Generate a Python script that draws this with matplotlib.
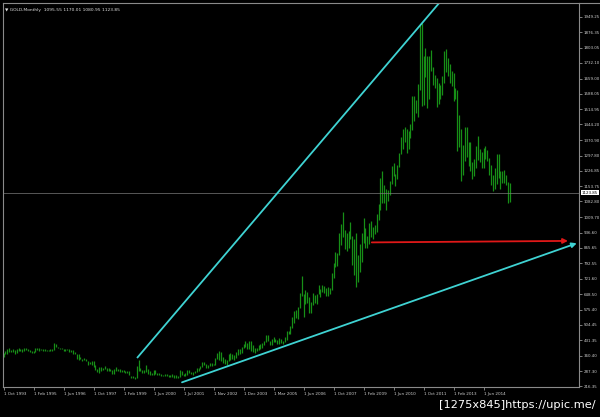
import matplotlib
matplotlib.use("Agg")
import matplotlib.pyplot as plt
from matplotlib.lines import Line2D

# monthly bars (MT4 history, a few duplicated months in 2000-2005)
highs = [
    373, 380, 393,                                                   # 1993
    396, 388, 393, 385, 390, 395, 391, 389, 398, 396, 393, 385,      # 1994
    382, 381, 394, 396, 394, 392, 389, 389, 387, 388, 391, 389,      # 1995
    418, 416, 401, 398, 394, 391, 389, 392, 390, 385, 385, 375,      # 1996
    368, 367, 356, 346, 348, 346, 336, 331, 334, 336, 315, 297,      # 1997
    306, 305, 304, 313, 302, 300, 296, 291, 299, 305, 299, 297,      # 1998
    292, 291, 290, 288, 290, 265, 265, 260, 310, 339, 304, 294,      # 1999
    293, 316, 298, 286, 279, 295, 291, 281, 278, 276, 270, 275,      # 2000
    272, 270, 268, 272, 270, 269, 266, 294, 290, 272, 281, 295, 293, 285, 282,  # 2001
    288, 302, 304, 311, 328, 329, 323, 315, 325, 325, 322, 349,      # 2002
    371, 382, 375, 352, 345, 340, 370, 372, 368, 363, 377, 390, 390, 400, 417,  # 2003
    428, 419, 430, 427, 410, 397, 397, 408, 417, 419, 430, 456, 456,  # 2004
    429, 437, 446, 437, 432, 441, 438, 430, 448, 475, 477, 498, 541,  # 2005
    571, 574, 588, 654, 732, 650, 670, 660, 637, 610, 652, 644,      # 2006
    651, 690, 673, 692, 687, 675, 683, 676, 746, 796, 848, 839,      # 2007
    936, 978, 1032, 950, 936, 943, 988, 920, 906, 934, 830, 882,     # 2008
    937, 1006, 957, 922, 980, 991, 965, 972, 1024, 1070, 1195, 1226,  # 2009
    1162, 1140, 1135, 1180, 1249, 1265, 1213, 1252, 1311, 1387, 1424, 1431,  # 2010
    1424, 1413, 1447, 1576, 1577, 1560, 1632, 1912, 1921, 1764, 1803, 1764,  # 2011
    1763, 1791, 1715, 1676, 1663, 1640, 1630, 1672, 1790, 1796, 1755, 1725,  # 2012
    1695, 1684, 1617, 1605, 1487, 1424, 1348, 1433, 1434, 1361, 1361, 1268,  # 2013
    1280, 1345, 1392, 1331, 1315, 1332, 1345, 1322, 1287, 1255, 1206, 1238,  # 2014
    1307, 1304, 1224, 1224, 1232, 1205, 1175, 1170,                  # 2015
]
lows = [
    355, 368, 370,
    376, 375, 375, 369, 372, 380, 380, 376, 384, 385, 380, 375,
    371, 371, 375, 388, 382, 385, 383, 380, 381, 382, 383, 384,
    388, 399, 394, 389, 389, 381, 381, 385, 379, 378, 370, 367,
    345, 338, 346, 337, 339, 336, 318, 319, 317, 308, 295, 283,
    278, 290, 291, 297, 290, 290, 287, 272, 273, 288, 290, 285,
    283, 283, 278, 279, 268, 257, 253, 252, 253, 290, 287, 278,
    280, 282, 276, 271, 270, 271, 276, 269, 270, 263, 263, 266,
    264, 262, 259, 259, 256, 255, 255, 262, 268, 263, 264, 270, 277, 272, 271,
    277, 283, 288, 299, 306, 316, 301, 302, 310, 311, 315, 315,
    344, 342, 335, 325, 322, 318, 333, 342, 345, 342, 350, 365, 367, 371, 394,
    399, 391, 391, 381, 378, 371, 382, 387, 389, 398, 409, 424, 430,
    411, 411, 423, 422, 414, 414, 418, 415, 426, 435, 460, 462, 489,
    515, 536, 534, 582, 639, 543, 603, 606, 562, 560, 598, 609,
    602, 647, 636, 657, 654, 641, 642, 648, 668, 725, 774, 781,
    834, 880, 917, 861, 853, 866, 907, 786, 740, 681, 705, 753,
    801, 886, 866, 865, 883, 916, 908, 930, 938, 998, 1042, 1075,
    1075, 1045, 1087, 1111, 1164, 1202, 1155, 1186, 1243, 1307, 1330, 1360,
    1309, 1328, 1382, 1419, 1462, 1496, 1478, 1604, 1532, 1534, 1667, 1522,
    1562, 1694, 1627, 1614, 1527, 1540, 1563, 1582, 1640, 1692, 1672, 1636,
    1626, 1555, 1562, 1321, 1338, 1180, 1208, 1271, 1292, 1251, 1227, 1187,
    1202, 1241, 1277, 1268, 1240, 1240, 1280, 1273, 1206, 1161, 1132, 1142,
    1167, 1191, 1142, 1170, 1170, 1162, 1077, 1081,
]

date_labels = ["1 Oct 1993", "1 Feb 1995", "1 Jun 1996", "1 Oct 1997", "1 Feb 1999",
               "1 Jun 2000", "1 Jul 2001", "1 Nov 2002", "1 Dec 2003", "1 Mar 2005",
               "1 Jun 2006", "1 Oct 2007", "1 Feb 2009", "1 Jun 2010", "1 Oct 2011",
               "1 Feb 2013", "1 Jun 2014"]
label_step = 16

price_ticks = [216.35, 287.30, 360.40, 431.35, 504.45, 575.40, 648.50, 721.60,
               792.55, 865.65, 936.60, 1009.70, 1082.80, 1153.75, 1226.85, 1297.80,
               1370.90, 1444.20, 1514.95, 1588.05, 1659.00, 1732.10, 1803.05,
               1876.35, 1949.25]
last_price = 1123.85
header = "GOLD,Monthly  1095.55 1170.01 1080.95 1123.85"

# drawn objects: (bar, price) pairs
upper_line = [(71.2, 349), (232.3, 2013)]
lower_line = [(95.2, 235), (305.7, 887)]
red_arrow = [(196.4, 891), (301.0, 898)]

fig = plt.figure(figsize=(6, 4.17), dpi=100, facecolor="black")
ax = fig.add_axes([3 / 600, 30 / 417, 576 / 600, 384 / 417])
ax.set_facecolor("black")

bars = range(len(highs))
ax.vlines(bars, lows, highs, color="#178f17", lw=0.9)

ax.axhline(last_price, color="#7a7a7a", lw=0.5)

cyan = "#3fd3d3"
ax.plot([p[0] for p in upper_line], [p[1] for p in upper_line], color=cyan, lw=1.3,
        solid_capstyle="butt")
ax.annotate("", xy=lower_line[1], xytext=lower_line[0],
            arrowprops=dict(arrowstyle="-|>", color=cyan, lw=1.3, mutation_scale=7,
                            shrinkA=0, shrinkB=0))
ax.annotate("", xy=red_arrow[1], xytext=red_arrow[0],
            arrowprops=dict(arrowstyle="-|>", color="#e01818", lw=1.3, mutation_scale=7,
                            shrinkA=0, shrinkB=0))

ax.set_xlim(-0.27, 306.9)
ax.set_ylim(213.1, 2013.3)

ax.set_xticks([i * label_step for i in range(len(date_labels))])
ax.set_xticklabels(date_labels, ha="left")
ax.set_yticks(price_ticks)
ax.set_yticklabels(["%.2f" % v for v in price_ticks])
ax.yaxis.tick_right()
ax.tick_params(axis="x", colors="#b0b0b0", labelsize=3.0, length=2.5, width=0.5,
               direction="out", pad=1)
ax.tick_params(axis="y", colors="#b0b0b0", labelsize=2.9, length=2.5, width=0.5,
               direction="out", pad=1)
for lbl in ax.get_xticklabels():
    lbl.set_color("#d0d0d0")
for lbl in ax.get_yticklabels():
    lbl.set_color("#d0d0d0")

for s in ax.spines.values():
    s.set_color("#8a8a8a")
    s.set_linewidth(0.8)

ax.text(1.005, last_price, "%.2f" % last_price, transform=ax.get_yaxis_transform(),
        fontsize=2.9, color="black", va="center", ha="left",
        bbox=dict(boxstyle="square,pad=0.15", fc="white", ec="none"))

ax.text(0.004, 0.987, "\u25bc " + header, transform=ax.transAxes, fontsize=3.2,
        color="#e0e0e0", va="top", ha="left")

fig.add_artist(Line2D([579 / 600, 1.0], [1 - 3 / 417, 1 - 3 / 417], color="#8a8a8a", lw=0.8))

fig.text(0.992, 0.028, "[1275x845]https://upic.me/", color="white", fontsize=8.2,
         ha="right", va="center")

fig.savefig("out.png", dpi=100, facecolor="black")
